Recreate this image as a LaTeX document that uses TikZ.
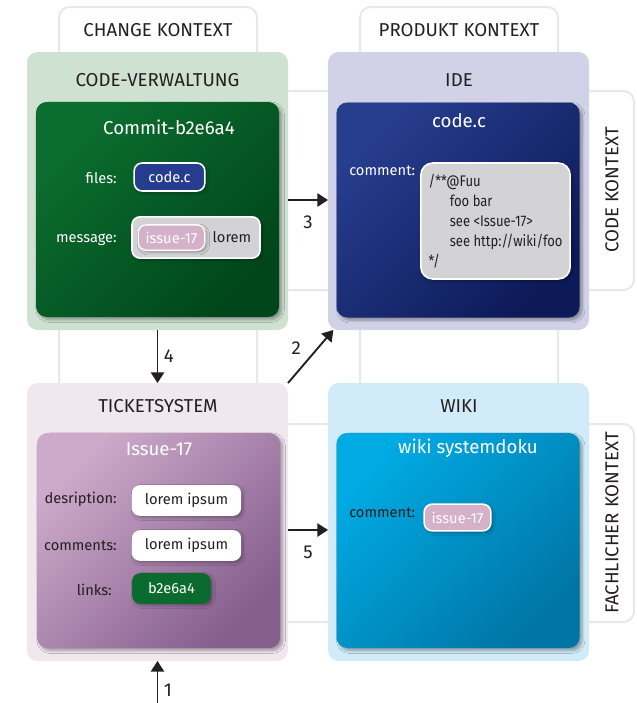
\documentclass[tikz,border=0pt]{standalone}
\usepackage{fontspec}
\setmainfont{Fira Sans}
\newfontfamily\codefont[FakeStretch=0.85]{Fira Sans}
\usetikzlibrary{positioning,arrows.meta,shadows.blur}

\definecolor{framegray}{HTML}{E8E8E8}
\definecolor{darktext}{HTML}{231F20}
\definecolor{cvfill}{HTML}{CFE1D1}
\definecolor{idefill}{HTML}{D1D1E8}
\definecolor{tsfill}{HTML}{F1E7EF}
\definecolor{wikifill}{HTML}{D1ECF8}
\definecolor{commitA}{HTML}{0B6E2F}
\definecolor{commitB}{HTML}{00461A}
\definecolor{codecA}{HTML}{273D8E}
\definecolor{codecB}{HTML}{0C1A58}
\definecolor{issueA}{HTML}{CDAACA}
\definecolor{issueB}{HTML}{855E8E}
\definecolor{wikiA}{HTML}{00AAE3}
\definecolor{wikiB}{HTML}{0075A5}
\definecolor{pillblue}{HTML}{263C8E}
\definecolor{pillpink}{HTML}{D4B1C8}
\definecolor{pillgray}{HTML}{D3D3D6}
\definecolor{pillgreen}{HTML}{0B6B2E}

\tikzset{
  frame/.style={draw=framegray, line width=1.5pt, rounded corners=8pt},
  ctxlabel/.style={text=darktext, font=\fontsize{14}{16}\selectfont, inner sep=0pt},
  outerbox/.style={fill=#1, rounded corners=8pt, minimum width=195.75pt,
    minimum height=208.5pt, inner sep=0pt, outer sep=0pt},
  boxtitle/.style={text=darktext, font=\fontsize{14}{16}\selectfont, inner sep=0pt},
  innerbox/.style 2 args={rounded corners=8pt, top color=#1, bottom color=#2,
    shading angle=45, minimum width=182.25pt, minimum height=161.25pt,
    inner sep=0pt, outer sep=0pt,
    blur shadow={shadow xshift=2pt, shadow yshift=-2pt, shadow blur steps=6, shadow opacity=35}},
  innertitle/.style={text=white, font=\fontsize{14}{16}\selectfont, inner sep=0pt},
  fieldlbl/.style={font=\fontsize{11}{13}\selectfont, inner sep=0pt},
  pill/.style={rounded corners=6pt, inner sep=0pt, font=\fontsize{11}{13}\selectfont,
    blur shadow={shadow xshift=1.5pt, shadow yshift=-1.5pt, shadow blur steps=4, shadow opacity=30}},
  flow/.style={-{Triangle[length=8pt,width=10pt]}, line width=1.4pt, draw=darktext},
  flownum/.style={text=darktext, font=\fontsize{14}{16}\selectfont, inner sep=0pt}
}

\begin{document}
\begin{tikzpicture}[x=0.75pt,y=-0.75pt]
\useasboundingbox (0,0) rectangle (636,703);

% context frames
\draw[frame] (59,7) rectangle (257,420);
\draw[frame] (360,7) rectangle (558,420);
\draw[frame] (200,91) rectangle (634,290);
\draw[frame] (200,424) rectangle (634,622);
\node[ctxlabel] (changectx) at (158,30) {CHANGE KONTEXT};
\node[ctxlabel] (produktctx) at (459,30) {PRODUKT KONTEXT};
\node[ctxlabel, rotate=90] (codectx) at (612,190) {CODE KONTEXT};
\node[ctxlabel, rotate=90] (fachctx) at (612,523) {FACHLICHER KONTEXT};

% outer boxes
\node[outerbox=cvfill] (cvbox) at (157.5,191) {};
\node[outerbox=idefill] (idebox) at (458.5,191) {};
\node[outerbox=tsfill] (tsbox) at (157.5,522) {};
\node[outerbox=wikifill] (wikibox) at (458.5,522) {};
\node[boxtitle] (cvtitle) at (157.5,80) {CODE-VERWALTUNG};
\node[boxtitle] (idetitle) at (459,80) {IDE};
\node[boxtitle] (tstitle) at (158,406) {TICKETSYSTEM};
\node[boxtitle] (wikititle) at (459,406) {WIKI};

% inner boxes
\node[innerbox={commitA}{commitB}] (commit) at (157.5,209.5) {};
\node[innerbox={codecA}{codecB}] (codec) at (458,210) {};
\node[innerbox={issueA}{issueB}] (issue) at (158.5,540.5) {};
\node[innerbox={wikiA}{wikiB}] (wikidoc) at (458,540.5) {};

% commit
\node[innertitle] (committitle) at (169,127) {Commit-b2e6a4};
\node[fieldlbl, text=white, anchor=east] (fileslbl) at (117,178) {files:};
\node[pill, fill=pillblue, draw=white, line width=1.2pt, text=white,
  minimum width=53pt, minimum height=21pt] (filespill) at (169.5,177) {code.c};
\node[fieldlbl, text=white, anchor=east] (msglbl) at (117,240) {message:};
\node[pill, fill=pillgray, draw=white, line width=1.2pt,
  minimum width=96pt, minimum height=31pt] (msgpill) at (196,237.5) {};
\node[pill, fill=pillpink, draw=white, line width=1pt, text=white,
  minimum width=50pt, minimum height=19pt] (msgissue) at (171.5,237.5) {issue-17};
\node[fieldlbl, text=darktext] (msglorem) at (232,237) {lorem};

% code.c
\node[innertitle] (codectitle) at (459,121) {code.c};
\node[fieldlbl, text=white, anchor=west] (commentlbl) at (349,171) {comment:};
\node[pill, fill=pillgray, draw=white, line width=1.2pt, rounded corners=9pt,
  minimum width=112pt, minimum height=87pt, align=left, inner xsep=5pt,
  text=darktext, font=\codefont\fontsize{11.5}{15}\selectfont]
  (commentbox) at (495.5,221)
  {/**@Fuu\\\hspace*{16pt}foo bar\\\hspace*{16pt}see <Issue-17>\\\hspace*{16pt}see http://wiki/foo\\{*}/};

% issue
\node[innertitle] (issuetitle) at (159,449) {Issue-17};
\node[fieldlbl, text=darktext, anchor=east] (desclbl) at (117,499) {desription:};
\node[pill, fill=white, text=darktext, minimum width=82pt, minimum height=23pt]
  (descpill) at (186.5,500.5) {lorem ipsum};
\node[fieldlbl, text=darktext, anchor=east] (commentslbl) at (117,546) {comments:};
\node[pill, fill=white, text=darktext, minimum width=82pt, minimum height=23pt]
  (commentspill) at (186.5,545.5) {lorem ipsum};
\node[fieldlbl, text=darktext, anchor=east] (linkslbl) at (112,590) {links:};
\node[pill, fill=pillgreen, text=white, minimum width=59pt, minimum height=23pt]
  (linkspill) at (171.5,588.5) {b2e6a4};

% wiki
\node[innertitle] (wikidoctitle) at (468,448) {wiki systemdoku};
\node[fieldlbl, text=darktext, anchor=west] (wcommentlbl) at (349,513) {comment:};
\node[pill, fill=pillpink, draw=white, line width=1.2pt, text=white,
  minimum width=50pt, minimum height=20pt] (wikiissue) at (457.5,517.5) {issue-17};

% flows
\coordinate (ticketin) at (157.5,703);
\draw[flow] (ticketin) -- (tsbox.south)
  node[flownum, right=4pt, pos=0.3] (num1) {1};
\draw[flow] (tsbox.north east) -- ([xshift=4pt]idebox.south west)
  node[flownum, above left=3pt and 5pt, pos=0.45] (num2) {2};
\draw[flow] ([yshift=-6.75pt]cvbox.east) -- ([yshift=-6.75pt]idebox.east -| idebox.west)
  node[flownum, below=11pt, midway] (num3) {3};
\draw[flow] (cvbox.south) -- (tsbox.north)
  node[flownum, right=4pt, midway] (num4) {4};
\draw[flow] ([yshift=-6pt]tsbox.east) -- ([yshift=-6pt]wikibox.east -| wikibox.west)
  node[flownum, below=11pt, midway] (num5) {5};
\end{tikzpicture}
\end{document}
